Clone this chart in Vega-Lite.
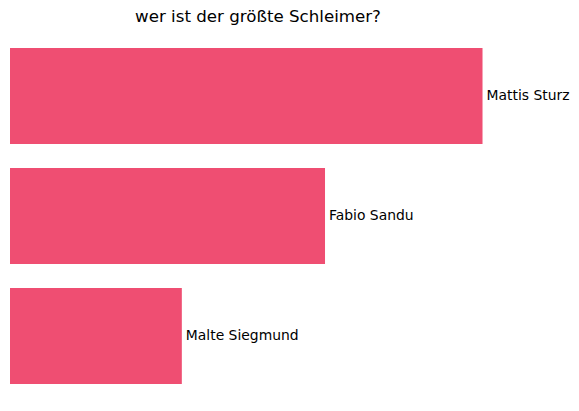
{
  "$schema": "https://vega.github.io/schema/vega-lite/v6.json",
  "autosize": "none",
  "width": 494,
  "height": 360,
  "padding": {"left": 10, "top": 36, "right": 75, "bottom": 15},
  "background": "white",
  "title": {"text": "wer ist der größte Schleimer?", "font": "DejaVu Sans", "fontSize": 16.67, "fontWeight": "normal", "color": "#000000", "anchor": "middle", "offset": 10, "dx": 1},
  "data": {"values": [
    {"name": "Mattis Sturz", "value": 33},
    {"name": "Fabio Sandu", "value": 22},
    {"name": "Malte Siegmund", "value": 12}
  ]},
  "encoding": {
    "y": {"field": "name", "type": "nominal", "sort": null, "axis": null, "scale": {"paddingInner": 0.2, "paddingOuter": 0.1}},
    "x": {"field": "value", "type": "quantitative", "axis": null, "scale": {"domain": [0, 34.5], "nice": false}}
  },
  "layer": [
    {"mark": {"type": "bar", "color": "#EF4E72"}},
    {"mark": {"type": "text", "align": "left", "baseline": "middle", "dx": 4, "font": "DejaVu Sans", "fontSize": 13.9, "color": "#000000"}, "encoding": {"text": {"field": "name"}}}
  ],
  "config": {"view": {"stroke": null}}
}
